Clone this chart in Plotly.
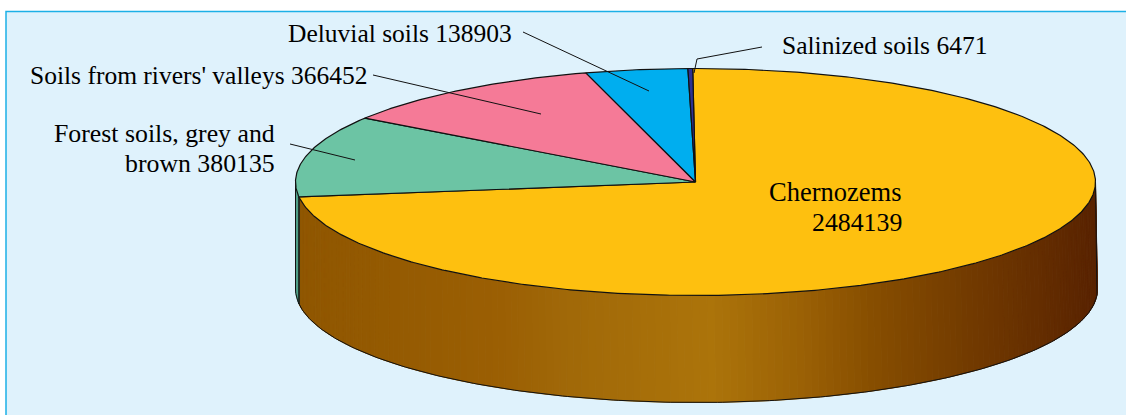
import numpy as np
import plotly.graph_objects as go

categories = ["Chernozems", "Forest soils, grey and brown", "Soils from rivers' valleys",
              "Deluvial soils", "Salinized soils"]
values = [2484139, 380135, 366452, 138903, 6471]
top_colors = ["#fec00f", "#6cc4a4", "#f57a97", "#00aeef", "#2e3192"]
wall_left_color = "#4f9f88"
gradient_x = [296, 500, 560, 710, 800, 870, 950, 1097]
gradient_rgb = [(143, 86, 0), (155, 95, 3), (160, 104, 8), (172, 116, 10), (155, 97, 5), (135, 78, 0), (118, 62, 0), (88, 34, 0)]

W, H = 1126, 415
CX, CY, RX, RY = 695.5, 182.0, 400.0, 113.5
BCX, BRX, DEPTH = 696.5, 401.0, 107.0
ROT = -0.4
WARP = 2.1
FONT = "Liberation Serif"

total = sum(values)
raw = np.cumsum([0] + values) / total * 360
# small projection warp of the tilted disc, same for every slice boundary
cum = raw + ROT + WARP * np.sin(np.radians(raw)) ** 5


def top(th):
    t = np.radians(th)
    return CX + RX * np.sin(t), CY - RY * np.cos(t)


def bot(th):
    t = np.radians(th)
    return BCX + BRX * np.sin(t), CY + DEPTH - RY * np.cos(t)


def wall_color(x):
    c = [np.interp(x, gradient_x, [g[i] for g in gradient_rgb]) for i in range(3)]
    return f"rgb({c[0]:.0f},{c[1]:.0f},{c[2]:.0f})"


fig = go.Figure()


def poly(xs, ys, fill, line, width):
    fig.add_trace(go.Scatter(x=list(xs), y=list(ys), mode="lines", fill="toself", fillcolor=fill,
                             line=dict(color=line, width=width), hoverinfo="skip", showlegend=False))


# Side wall: strips along the visible front half
edges = np.linspace(90, cum[1], 161)
for a, b in zip(edges[:-1], edges[1:]):
    xa, ya = top(a)
    xb, yb = top(b)
    xc, yc = bot(b)
    xd, yd = bot(a)
    col = wall_color((xa + xb) / 2)
    poly([xa, xb, xc, xd, xa], [ya, yb, yc, yd, ya], col, col, 1)
# Green wall strip, left of the yellow slice
th = np.linspace(cum[1], 270, 12)
tx, ty = top(th)
bx, by = bot(th)
poly(np.r_[tx, bx[::-1], tx[0]], np.r_[ty, by[::-1], ty[0]], wall_left_color, wall_left_color, 1)

# Wall outline
th = np.linspace(90, 270, 241)
bx, by = bot(th)
tx0, ty0 = top(90)
tx1, ty1 = top(270)
fig.add_trace(go.Scatter(x=np.r_[tx0, bx, tx1], y=np.r_[ty0, by, ty1], mode="lines",
                         line=dict(color="#111", width=1), hoverinfo="skip", showlegend=False))
sx, sy = top(cum[1])
ex, ey = bot(cum[1])
fig.add_trace(go.Scatter(x=[sx, ex], y=[sy, ey], mode="lines",
                         line=dict(color="#111", width=1.5), hoverinfo="skip", showlegend=False))

# Top slices
for i in range(len(values)):
    th = np.linspace(cum[i], cum[i + 1], max(3, int((cum[i + 1] - cum[i]) * 2)))
    x, y = top(th)
    poly(np.r_[CX, x, CX], np.r_[CY, y, CY], top_colors[i], "#111", 1.2)

# Leader lines
leaders = [
    ([523, 649], [32, 91]),
    ([762, 697, 694], [47, 59, 73]),
    ([373, 541], [75, 114]),
    ([290, 355], [144, 160]),
]
for lx, ly in leaders:
    fig.add_trace(go.Scatter(x=lx, y=ly, mode="lines", line=dict(color="#111", width=1),
                             hoverinfo="skip", showlegend=False))

labels = [
    (f"{categories[3]} {values[3]}", 514, 33, "right", 25.5),
    (f"{categories[4]} {values[4]}", 780, 45, "left", 25.5),
    (f"{categories[2]} {values[2]}", 369, 75, "right", 25.5),
    ("Forest soils, grey and", 277, 133, "right", 25.8),
    (f"brown {values[1]}", 277, 163, "right", 25.8),
    (categories[0], 903, 192, "right", 26.5),
    (f"{values[0]}", 904, 222, "right", 25.8),
]
annotations = [
    dict(x=x, y=y, text=t, showarrow=False, xanchor=anc, yanchor="middle", align=anc,
         font=dict(family=FONT, size=fs, color="#000000"), xref="x", yref="y")
    for t, x, y, anc, fs in labels
]

fig.update_layout(
    width=W, height=H, margin=dict(l=0, r=0, t=0, b=0),
    paper_bgcolor="#ffffff", plot_bgcolor="#ffffff", showlegend=False,
    xaxis=dict(range=[0, W], visible=False, fixedrange=True),
    yaxis=dict(range=[H, 0], visible=False, fixedrange=True),
    shapes=[dict(type="rect", x0=6, y0=11.5, x1=W + 10, y1=H + 10, layer="below",
                 fillcolor="#dff2fc", line=dict(color="#1cb0e6", width=1.5))],
    annotations=annotations,
)
fig.write_html("out.html", config={"displayModeBar": False},
               post_script="document.body.style.margin='0';document.body.style.overflow='hidden';")
